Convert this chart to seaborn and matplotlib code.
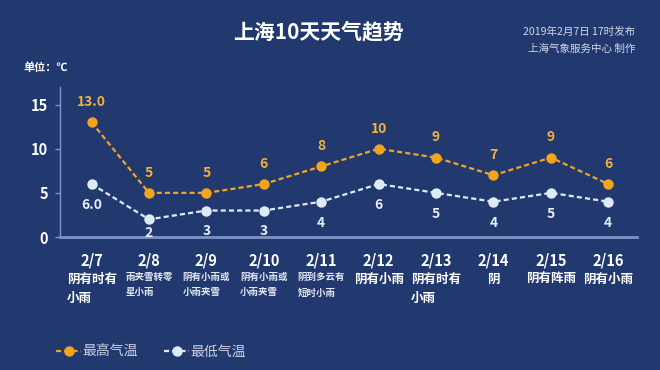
import numpy as np
import pandas as pd
import matplotlib.pyplot as plt
import seaborn as sns

# Shanghai 10-day forecast
dates = ['2/7', '2/8', '2/9', '2/10', '2/11', '2/12', '2/13', '2/14', '2/15', '2/16']
weather = ['阴有时有\n小雨', '雨夹雪转零\n星小雨', '阴有小雨或\n小雨夹雪', '阴有小雨或\n小雨夹雪',
           '阴到多云有\n短时小雨', '阴有小雨', '阴有时有\n小雨', '阴', '阴有阵雨', '阴有小雨']
small_weather = [False, True, True, True, True, False, False, False, False, False]
high_temp = [13, 5, 5, 6, 8, 10, 9, 7, 9, 6]
low_temp = [6, 2, 3, 3, 4, 6, 5, 4, 5, 4]
high_labels = ['13.0', '5', '5', '6', '8', '10', '9', '7', '9', '6']
low_labels = ['6.0', '2', '3', '3', '4', '6', '5', '4', '5', '4']
yticks = [0, 5, 10, 15]

bg = '#22396f'
orange = '#f1a51e'
pale = '#dfeaf7'
axis_col = '#7e92c6'

sns.set_theme(style='dark')
plt.rcParams['font.family'] = ['Noto Sans CJK SC', 'DejaVu Sans']
plt.rcParams['lines.dashed_pattern'] = [2.3, 1.4]
plt.rcParams['axes.unicode_minus'] = False

fig = plt.figure(figsize=(6.6, 3.7), dpi=100, facecolor=bg)
ax = fig.add_axes([60 / 660, 1 - 237 / 370, 577 / 660, 150 / 370])
ax.set_facecolor(bg)

pos = np.arange(len(dates))
df = pd.DataFrame({'pos': pos, 'high': high_temp, 'low': low_temp})

sns.lineplot(data=df, x='pos', y='high', ax=ax, color=orange, linestyle='--',
             linewidth=1.6, marker='o', markersize=7.5, markeredgewidth=0,
             label='最高气温')
sns.lineplot(data=df, x='pos', y='low', ax=ax, color=pale, linestyle='--',
             linewidth=1.6, marker='o', markersize=7.5, markeredgewidth=0,
             label='最低气温')

for i in range(len(dates)):
    ax.annotate(high_labels[i], (pos[i], high_temp[i]), xytext=(0, 14.5),
                textcoords='offset points', ha='center', va='center',
                fontsize=10, fontweight='bold', color='#f3b03c')
    # keep the low label above the x axis line
    off = min(15, low_temp[i] * 6.38 - 3)
    ax.annotate(low_labels[i], (pos[i], low_temp[i]), xytext=(0, -off),
                textcoords='offset points', ha='center', va='center',
                fontsize=10, fontweight='bold', color='#e8eef8')

xt = ax.get_xaxis_transform()
for i in range(len(dates)):
    ax.text(pos[i], -0.16, dates[i], transform=xt, ha='center', va='center',
            fontsize=10.5, fontweight='bold', color='white')
    if small_weather[i]:
        ax.text(pos[i], -0.235, weather[i], transform=xt, ha='center', va='top',
                multialignment='left', fontsize=6.8, fontweight='bold',
                color='#e4e9f2', linespacing=1.65)
    else:
        ax.text(pos[i], -0.24, weather[i], transform=xt, ha='center', va='top',
                multialignment='left', fontsize=9, fontweight='bold',
                color='white', linespacing=1.6)

ax.set_xlim(-0.55, 9.5)
ax.set_ylim(0, 17)
ax.set_xticks([])
ax.set_yticks(yticks)
ax.set_yticklabels([str(v) for v in yticks], fontsize=10.5, fontweight='bold', color='white')
ax.tick_params(axis='y', length=3.5, width=1, color=axis_col, left=True, pad=5)
ax.set_xlabel('')
ax.set_ylabel('')
ax.grid(False)
for s in ['top', 'right']:
    ax.spines[s].set_visible(False)
ax.spines['left'].set_color(axis_col)
ax.spines['left'].set_linewidth(1)
ax.spines['bottom'].set_color(axis_col)
ax.spines['bottom'].set_linewidth(2)

leg = ax.legend(loc='center left', bbox_to_anchor=(56 / 660, 1 - 352 / 370),
                bbox_transform=fig.transFigure, ncol=2, frameon=False,
                fontsize=10, handlelength=1.8, handletextpad=0.1,
                columnspacing=1.9, borderpad=0, borderaxespad=0)
for t in leg.get_texts():
    t.set_color('#c9d1e2')

fig.text(319 / 660, 1 - 32 / 370, '上海10天天气趋势', ha='center', va='center',
         fontsize=15, fontweight='bold', color='white')
fig.text(635 / 660, 1 - 32 / 370, '2019年2月7日 17时发布', ha='right', va='center',
         fontsize=7.6, color='#d0d7e6')
fig.text(635 / 660, 1 - 49 / 370, '上海气象服务中心 制作', ha='right', va='center',
         fontsize=7.6, color='#d0d7e6')
fig.text(23 / 660, 1 - 67 / 370, '单位：℃', ha='left', va='center',
         fontsize=8, fontweight='bold', color='white')

fig.savefig('out.png', dpi=100, facecolor=bg)
